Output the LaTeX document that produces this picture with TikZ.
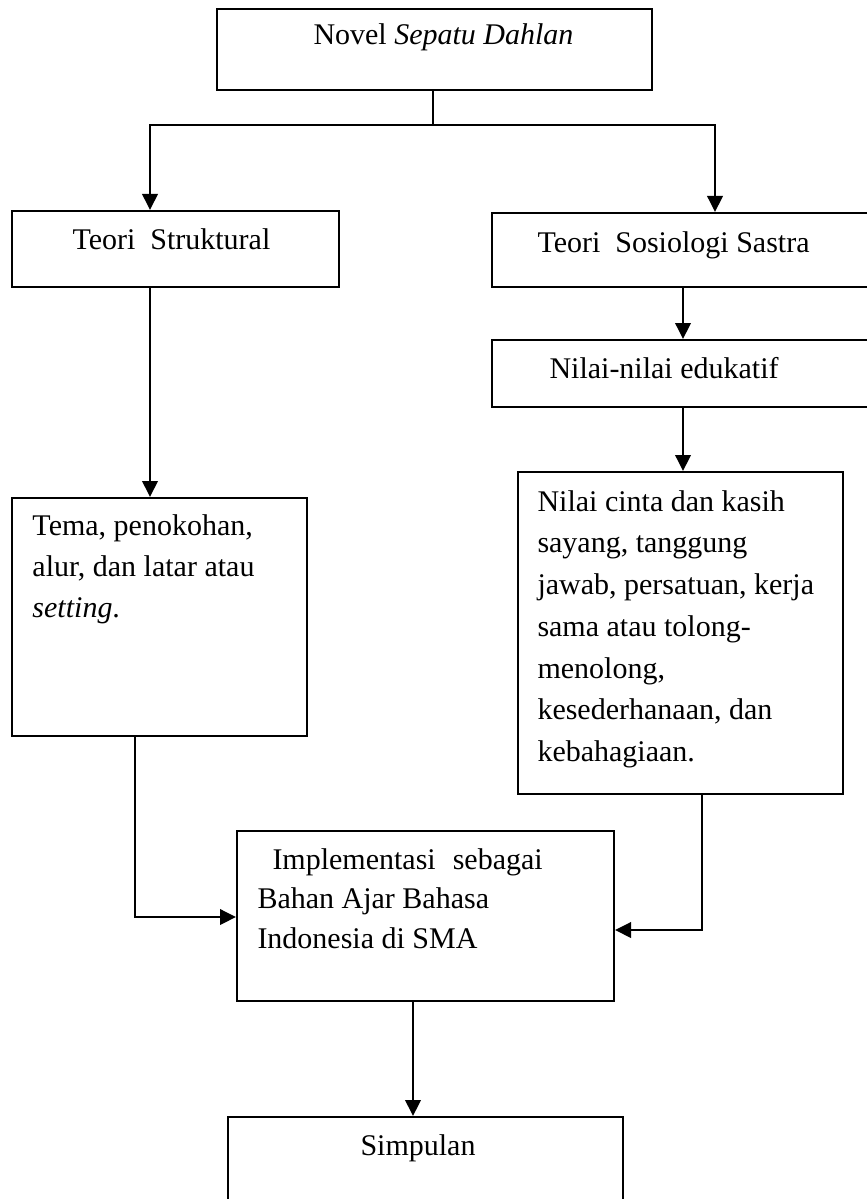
\documentclass[tikz,border=0pt]{standalone}
\usepackage{fontspec}
\setmainfont{Liberation Serif}
\usetikzlibrary{arrows.meta}
\begin{document}
\begin{tikzpicture}[x=0.4pt,y=-0.4pt,
  box/.style={draw,line width=0.8pt,inner sep=0pt,rectangle},
  txt/.style={inner sep=0pt,anchor=base west,font=\fontsize{12}{14}\selectfont},
  con/.style={line width=0.8pt},
  arr/.style={line width=0.8pt,-{Triangle[length=6.4pt,width=6.2pt]}}]
\useasboundingbox (0,0) rectangle (866,1199);
% boxes
\node[box,minimum width=174pt,minimum height=32.4pt] (novel) at (434.5,49.5) {};
\node[box,minimum width=130.8pt,minimum height=30.4pt] (ts) at (175.5,249) {};
\node[box,minimum width=155.2pt,minimum height=29.6pt] (sos) at (686,250) {};
\node[box,minimum width=155.2pt,minimum height=26.8pt] (nilai) at (686,373.5) {};
\node[box,minimum width=118pt,minimum height=95.2pt] (tema) at (159.5,617) {};
\node[box,minimum width=130pt,minimum height=128.8pt] (cinta) at (680.5,633) {};
\node[box,minimum width=150.8pt,minimum height=68pt] (impl) at (425.5,916) {};
\node[box,minimum width=158pt,minimum height=45.2pt] (simp) at (425.5,1173.5) {};
% texts
\node[txt] (tnovel) at (313,45) {Novel \textit{Sepatu Dahlan}};
\node[txt] (tts) at (72,249) {Teori\ \ Struktural};
\node[txt] (tsos) at (537,252) {Teori\ \ Sosiologi Sastra};
\node[txt] (tnilai) at (549,378) {Nilai-nilai edukatif};
\node[txt] (ttema) at (32,535) {\vtop{\baselineskip=16.4pt
  \hbox{Tema, penokohan,}\hbox{alur, dan latar atau}\hbox{\textit{setting}.}}};
\node[txt] (tcinta) at (537,511) {\vtop{\baselineskip=16.7pt
  \hbox{Nilai cinta dan kasih}\hbox{sayang, tanggung}\hbox{jawab, persatuan, kerja}
  \hbox{sama atau tolong-}\hbox{menolong,}\hbox{kesederhanaan, dan}\hbox{kebahagiaan.}}};
\node[txt] (timpl) at (257,869) {\vtop{\baselineskip=15.8pt
  \hbox{\hspace{6pt}Implementasi\hspace{6.8pt}sebagai}\hbox{Bahan Ajar Bahasa}\hbox{Indonesia di SMA}}};
\node[txt] (tsimp) at (360,1155) {Simpulan};
% junction coordinates
\coordinate (jM) at (433,125);
\coordinate (jL) at (150,125);
\coordinate (jR) at (715,125);
\coordinate (cR) at (683,0);
\coordinate (b1) at (135,917);
\coordinate (b2) at (702,930);
\coordinate (b3) at (413,0);
% connectors
\draw[con] (novel.south -| jM) -- (jM);
\draw[arr] (jM) -- (jL) -- (jL |- ts.north);
\draw[arr] (jM) -- (jR) -- (jR |- sos.north);
\draw[arr] (jL |- ts.south) -- (jL |- tema.north);
\draw[arr] (cR |- sos.south) -- (cR |- nilai.north);
\draw[arr] (cR |- nilai.south) -- (cR |- cinta.north);
\draw[arr] (b1 |- tema.south) -- (b1) -- (b1 -| impl.west);
\draw[arr] (b2 |- cinta.south) -- (b2) -- (b2 -| impl.east);
\draw[arr] (b3 |- impl.south) -- (b3 |- simp.north);
\end{tikzpicture}
\end{document}
